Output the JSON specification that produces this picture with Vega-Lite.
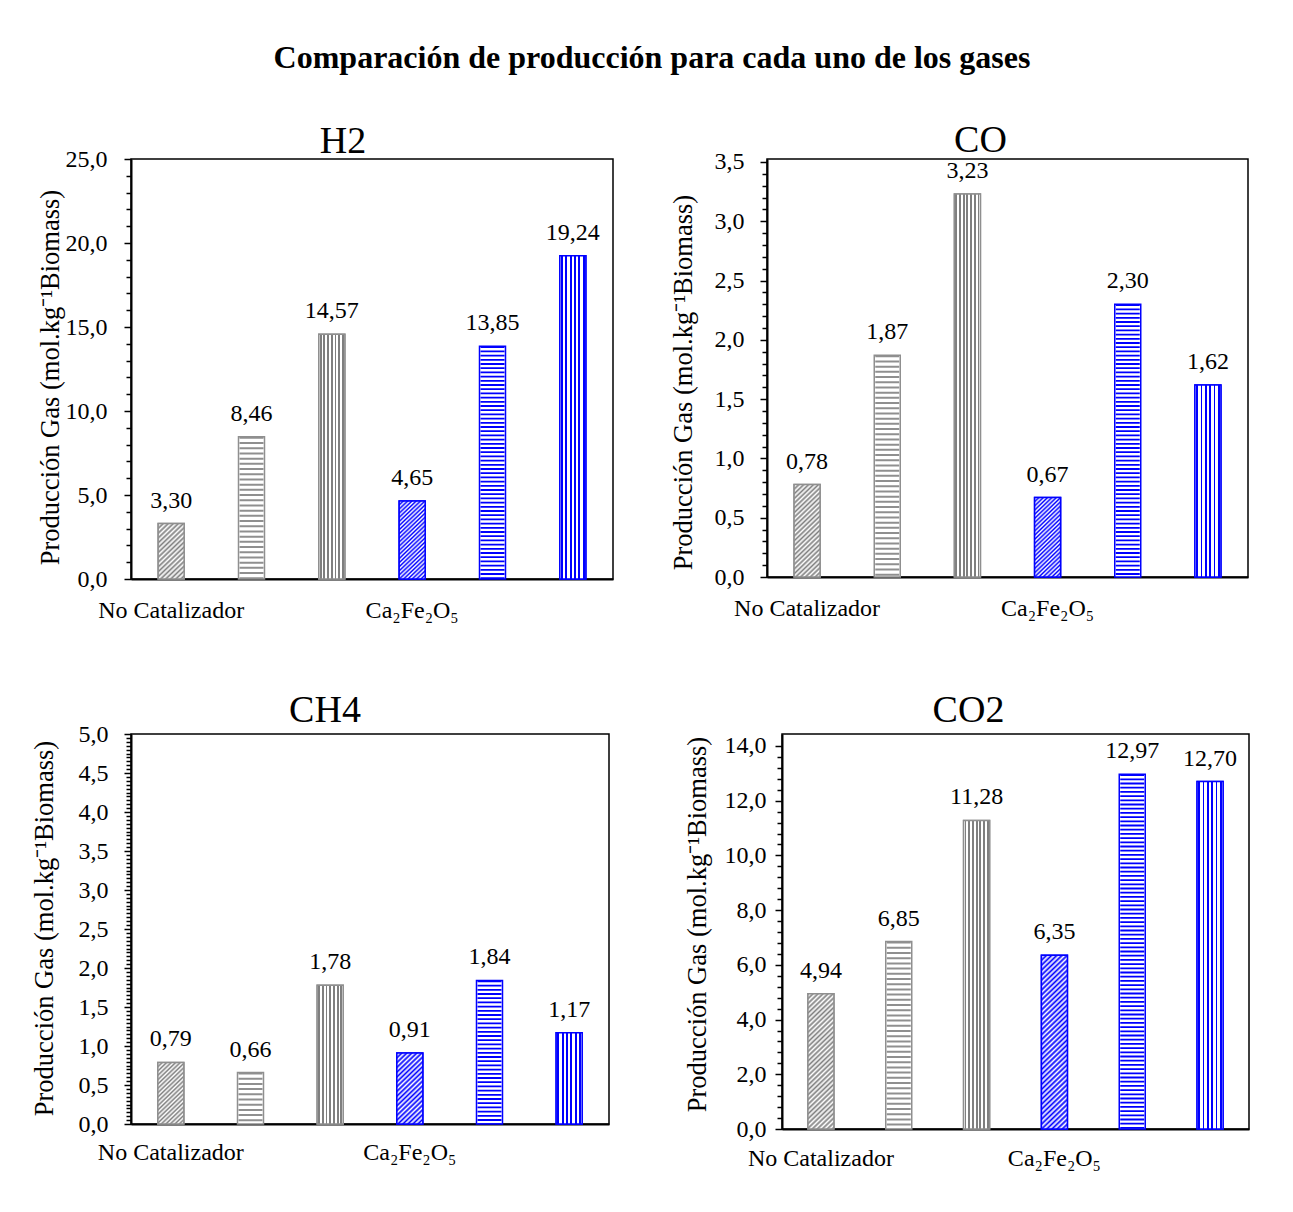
{
"$schema":"https://vega.github.io/schema/vega-lite/v6.json",
"background":"white",
"padding":{"left":30,"top":42,"right":10,"bottom":10},
"title":{"text":"Comparación de producción para cada uno de los gases","font":"Liberation Serif","fontSize":32,"fontWeight":"bold","color":"black","anchor":"middle","offset":46,"dx":12},
"datasets":{"d":[
{"gas":"H2","cat":1,"group":"No Catalizador","pattern":"d","value":3.30},
{"gas":"H2","cat":2,"group":"No Catalizador","pattern":"h","value":8.46},
{"gas":"H2","cat":3,"group":"No Catalizador","pattern":"v","value":14.57},
{"gas":"H2","cat":4,"group":"Ca2Fe2O5","pattern":"d","value":4.65},
{"gas":"H2","cat":5,"group":"Ca2Fe2O5","pattern":"h","value":13.85},
{"gas":"H2","cat":6,"group":"Ca2Fe2O5","pattern":"v","value":19.24},
{"gas":"CO","cat":1,"group":"No Catalizador","pattern":"d","value":0.78},
{"gas":"CO","cat":2,"group":"No Catalizador","pattern":"h","value":1.87},
{"gas":"CO","cat":3,"group":"No Catalizador","pattern":"v","value":3.23},
{"gas":"CO","cat":4,"group":"Ca2Fe2O5","pattern":"d","value":0.67},
{"gas":"CO","cat":5,"group":"Ca2Fe2O5","pattern":"h","value":2.30},
{"gas":"CO","cat":6,"group":"Ca2Fe2O5","pattern":"v","value":1.62},
{"gas":"CH4","cat":1,"group":"No Catalizador","pattern":"d","value":0.79},
{"gas":"CH4","cat":2,"group":"No Catalizador","pattern":"h","value":0.66},
{"gas":"CH4","cat":3,"group":"No Catalizador","pattern":"v","value":1.78},
{"gas":"CH4","cat":4,"group":"Ca2Fe2O5","pattern":"d","value":0.91},
{"gas":"CH4","cat":5,"group":"Ca2Fe2O5","pattern":"h","value":1.84},
{"gas":"CH4","cat":6,"group":"Ca2Fe2O5","pattern":"v","value":1.17},
{"gas":"CO2","cat":1,"group":"No Catalizador","pattern":"d","value":4.94},
{"gas":"CO2","cat":2,"group":"No Catalizador","pattern":"h","value":6.85},
{"gas":"CO2","cat":3,"group":"No Catalizador","pattern":"v","value":11.28},
{"gas":"CO2","cat":4,"group":"Ca2Fe2O5","pattern":"d","value":6.35},
{"gas":"CO2","cat":5,"group":"Ca2Fe2O5","pattern":"h","value":12.97},
{"gas":"CO2","cat":6,"group":"Ca2Fe2O5","pattern":"v","value":12.70}
]},
"spacing":68,
"vconcat":[
{"spacing":55,"hconcat":[
{"width":482,"height":420,
"title":{"text":"H2","fontSize":38,"offset":-14,"frame":"group","dx":-29,"anchor":"middle"},
"data":{"name":"d"},
"transform":[{"filter":"datum.gas == 'H2'"}],
"encoding":{
"x":{"field":"cat","type":"ordinal","scale":{"paddingInner":0,"paddingOuter":0},"axis":{"title":null,"labelAngle":0,"ticks":false,"tickSize":0,"labelPadding":19,"labelOverlap":false,"labelLimit":300,"labelExpr":"datum.value == 1 ? 'No Catalizador' : datum.value == 4 ? 'Ca₂Fe₂O₅' : ''"}},
"y":{"field":"value","type":"quantitative","scale":{"domain":[0,25],"nice":false},"axis":{"title":"Producción Gas (mol.kg⁻¹Biomass)","titleY":218,"values":[0,1,2,3,4,5,6,7,8,9,10,11,12,13,14,15,16,17,18,19,20,21,22,23,24,25],"format":".1f","labelExpr":"datum.value % 5 == 0 ? datum.label : ''","tickSize":{"condition":{"test":"datum.value % 5 == 0","value":7},"value":5},"labelPadding":17,"titlePadding":1}}
},
"layer":[
{"mark":{"type":"bar","width":26,"fill":"white","strokeWidth":1.5},"encoding":{"stroke":{"field":"group","type":"nominal","scale":{"domain":["No Catalizador","Ca2Fe2O5"],"range":["#8f8f8f","#0000ff"]},"legend":null}}},
{"transform":[{"filter":"datum.pattern == 'h'"}],"mark":{"type":"rule","strokeWidth":24},"encoding":{"y2":{"datum":0},"stroke":{"field":"group","type":"nominal","legend":null},"strokeDash":{"field":"group","type":"nominal","scale":{"domain":["No Catalizador","Ca2Fe2O5"],"range":[[2,3.2],[1.8,2.4]]},"legend":null}}},
{"transform":[{"filter":"datum.cat == 3"}],"mark":{"type":"bar","width":26,"stroke":"#8f8f8f","strokeWidth":1.5,"fill":{"gradient":"linear","x1":0,"y1":0,"x2":1,"y2":0,"stops":[{"offset":0,"color":"#fff"},{"offset":0.0357,"color":"#fff"},{"offset":0.0357,"color":"#7f7f7f"},{"offset":0.1071,"color":"#7f7f7f"},{"offset":0.1071,"color":"#fff"},{"offset":0.1786,"color":"#fff"},{"offset":0.1786,"color":"#7f7f7f"},{"offset":0.25,"color":"#7f7f7f"},{"offset":0.25,"color":"#fff"},{"offset":0.3214,"color":"#fff"},{"offset":0.3214,"color":"#7f7f7f"},{"offset":0.3929,"color":"#7f7f7f"},{"offset":0.3929,"color":"#fff"},{"offset":0.4643,"color":"#fff"},{"offset":0.4643,"color":"#7f7f7f"},{"offset":0.5357,"color":"#7f7f7f"},{"offset":0.5357,"color":"#fff"},{"offset":0.6071,"color":"#fff"},{"offset":0.6071,"color":"#7f7f7f"},{"offset":0.6786,"color":"#7f7f7f"},{"offset":0.6786,"color":"#fff"},{"offset":0.75,"color":"#fff"},{"offset":0.75,"color":"#7f7f7f"},{"offset":0.8214,"color":"#7f7f7f"},{"offset":0.8214,"color":"#fff"},{"offset":0.8929,"color":"#fff"},{"offset":0.8929,"color":"#7f7f7f"},{"offset":0.9643,"color":"#7f7f7f"},{"offset":0.9643,"color":"#fff"},{"offset":1,"color":"#fff"}]}}},
{"transform":[{"filter":"datum.cat == 6"}],"mark":{"type":"bar","width":26,"stroke":"#0000ff","strokeWidth":1.5,"fill":{"gradient":"linear","x1":0,"y1":0,"x2":1,"y2":0,"stops":[{"offset":0,"color":"#fff"},{"offset":0.05,"color":"#fff"},{"offset":0.05,"color":"#00f"},{"offset":0.1167,"color":"#00f"},{"offset":0.1167,"color":"#fff"},{"offset":0.2167,"color":"#fff"},{"offset":0.2167,"color":"#00f"},{"offset":0.2833,"color":"#00f"},{"offset":0.2833,"color":"#fff"},{"offset":0.3833,"color":"#fff"},{"offset":0.3833,"color":"#00f"},{"offset":0.45,"color":"#00f"},{"offset":0.45,"color":"#fff"},{"offset":0.55,"color":"#fff"},{"offset":0.55,"color":"#00f"},{"offset":0.6167,"color":"#00f"},{"offset":0.6167,"color":"#fff"},{"offset":0.7167,"color":"#fff"},{"offset":0.7167,"color":"#00f"},{"offset":0.7833,"color":"#00f"},{"offset":0.7833,"color":"#fff"},{"offset":0.8833,"color":"#fff"},{"offset":0.8833,"color":"#00f"},{"offset":0.95,"color":"#00f"},{"offset":0.95,"color":"#fff"},{"offset":1,"color":"#fff"}]}}},
{"transform":[{"filter":"datum.cat == 1"}],"mark":{"type":"bar","width":26,"stroke":"#8f8f8f","strokeWidth":1.5,"fill":{"gradient":"linear","x1":0,"y1":0,"x2":0.541,"y2":1.206,"stops":[
{"offset":0,"color":"#7f7f7f"},{"offset":0.03,"color":"#fff"},{"offset":0.06,"color":"#7f7f7f"},{"offset":0.09,"color":"#fff"},{"offset":0.12,"color":"#7f7f7f"},{"offset":0.15,"color":"#fff"},{"offset":0.18,"color":"#7f7f7f"},{"offset":0.21,"color":"#fff"},{"offset":0.24,"color":"#7f7f7f"},{"offset":0.27,"color":"#fff"},{"offset":0.3,"color":"#7f7f7f"},{"offset":0.33,"color":"#fff"},{"offset":0.36,"color":"#7f7f7f"},{"offset":0.39,"color":"#fff"},{"offset":0.42,"color":"#7f7f7f"},{"offset":0.45,"color":"#fff"},{"offset":0.48,"color":"#7f7f7f"},{"offset":0.51,"color":"#fff"},{"offset":0.54,"color":"#7f7f7f"},{"offset":0.57,"color":"#fff"},{"offset":0.6,"color":"#7f7f7f"},{"offset":0.63,"color":"#fff"},{"offset":0.66,"color":"#7f7f7f"},{"offset":0.69,"color":"#fff"},{"offset":0.72,"color":"#7f7f7f"},{"offset":0.75,"color":"#fff"},{"offset":0.78,"color":"#7f7f7f"},{"offset":0.81,"color":"#fff"},{"offset":0.84,"color":"#7f7f7f"},{"offset":0.87,"color":"#fff"},{"offset":0.9,"color":"#7f7f7f"},{"offset":0.93,"color":"#fff"},{"offset":0.96,"color":"#7f7f7f"},{"offset":0.99,"color":"#fff"},{"offset":1,"color":"#7f7f7f"}]}}},
{"transform":[{"filter":"datum.cat == 4"}],"mark":{"type":"bar","width":26,"stroke":"#0000ff","strokeWidth":1.5,"fill":{"gradient":"linear","x1":0,"y1":0,"x2":0.381,"y2":1.197,"stops":[
{"offset":0,"color":"#00f"},{"offset":0.02,"color":"#fff"},{"offset":0.04,"color":"#00f"},{"offset":0.06,"color":"#fff"},{"offset":0.08,"color":"#00f"},{"offset":0.1,"color":"#fff"},{"offset":0.12,"color":"#00f"},{"offset":0.14,"color":"#fff"},{"offset":0.16,"color":"#00f"},{"offset":0.18,"color":"#fff"},{"offset":0.2,"color":"#00f"},{"offset":0.22,"color":"#fff"},{"offset":0.24,"color":"#00f"},{"offset":0.26,"color":"#fff"},{"offset":0.28,"color":"#00f"},{"offset":0.3,"color":"#fff"},{"offset":0.32,"color":"#00f"},{"offset":0.34,"color":"#fff"},{"offset":0.36,"color":"#00f"},{"offset":0.38,"color":"#fff"},{"offset":0.4,"color":"#00f"},{"offset":0.42,"color":"#fff"},{"offset":0.44,"color":"#00f"},{"offset":0.46,"color":"#fff"},{"offset":0.48,"color":"#00f"},{"offset":0.5,"color":"#fff"},{"offset":0.52,"color":"#00f"},{"offset":0.54,"color":"#fff"},{"offset":0.56,"color":"#00f"},{"offset":0.58,"color":"#fff"},{"offset":0.6,"color":"#00f"},{"offset":0.62,"color":"#fff"},{"offset":0.64,"color":"#00f"},{"offset":0.66,"color":"#fff"},{"offset":0.68,"color":"#00f"},{"offset":0.7,"color":"#fff"},{"offset":0.72,"color":"#00f"},{"offset":0.74,"color":"#fff"},{"offset":0.76,"color":"#00f"},{"offset":0.78,"color":"#fff"},{"offset":0.8,"color":"#00f"},{"offset":0.82,"color":"#fff"},{"offset":0.84,"color":"#00f"},{"offset":0.86,"color":"#fff"},{"offset":0.88,"color":"#00f"},{"offset":0.9,"color":"#fff"},{"offset":0.92,"color":"#00f"},{"offset":0.94,"color":"#fff"},{"offset":0.96,"color":"#00f"},{"offset":0.98,"color":"#fff"},{"offset":1,"color":"#00f"}]}}},
{"mark":{"type":"text","dy":-16,"baseline":"alphabetic","fontSize":24,"font":"Liberation Serif","color":"black"},"encoding":{"text":{"field":"value","type":"quantitative","format":".2f"}}}
]},
{"width":481,"height":418,
"title":{"text":"CO","fontSize":38,"offset":-10,"frame":"group","dx":-27,"anchor":"middle"},
"data":{"name":"d"},
"transform":[{"filter":"datum.gas == 'CO'"}],
"encoding":{
"x":{"field":"cat","type":"ordinal","scale":{"paddingInner":0,"paddingOuter":0},"axis":{"title":null,"labelAngle":0,"ticks":false,"tickSize":0,"labelPadding":19,"labelOverlap":false,"labelLimit":300,"labelExpr":"datum.value == 1 ? 'No Catalizador' : datum.value == 4 ? 'Ca₂Fe₂O₅' : ''"}},
"y":{"field":"value","type":"quantitative","scale":{"domain":[0,3.5253],"nice":false},"axis":{"title":"Producción Gas (mol.kg⁻¹Biomass)","titleY":223,"values":[0,0.1,0.2,0.3,0.4,0.5,0.6,0.7,0.8,0.9,1,1.1,1.2,1.3,1.4,1.5,1.6,1.7,1.8,1.9,2,2.1,2.2,2.3,2.4,2.5,2.6,2.7,2.8,2.9,3,3.1,3.2,3.3,3.4,3.5],"format":".1f","labelExpr":"abs(datum.value*2 - round(datum.value*2)) < 0.001 ? datum.label : ''","tickSize":{"condition":{"test":"abs(datum.value*2 - round(datum.value*2)) < 0.001","value":7},"value":5},"labelPadding":16,"titlePadding":17}}
},
"layer":[
{"mark":{"type":"bar","width":26,"fill":"white","strokeWidth":1.5},"encoding":{"stroke":{"field":"group","type":"nominal","scale":{"domain":["No Catalizador","Ca2Fe2O5"],"range":["#8f8f8f","#0000ff"]},"legend":null}}},
{"transform":[{"filter":"datum.pattern == 'h'"}],"mark":{"type":"rule","strokeWidth":24},"encoding":{"y2":{"datum":0},"stroke":{"field":"group","type":"nominal","legend":null},"strokeDash":{"field":"group","type":"nominal","scale":{"domain":["No Catalizador","Ca2Fe2O5"],"range":[[2,3.2],[1.8,2.4]]},"legend":null}}},
{"transform":[{"filter":"datum.cat == 3"}],"mark":{"type":"bar","width":26,"stroke":"#8f8f8f","strokeWidth":1.5,"fill":{"gradient":"linear","x1":0,"y1":0,"x2":1,"y2":0,"stops":[{"offset":0,"color":"#fff"},{"offset":0.0357,"color":"#fff"},{"offset":0.0357,"color":"#7f7f7f"},{"offset":0.1071,"color":"#7f7f7f"},{"offset":0.1071,"color":"#fff"},{"offset":0.1786,"color":"#fff"},{"offset":0.1786,"color":"#7f7f7f"},{"offset":0.25,"color":"#7f7f7f"},{"offset":0.25,"color":"#fff"},{"offset":0.3214,"color":"#fff"},{"offset":0.3214,"color":"#7f7f7f"},{"offset":0.3929,"color":"#7f7f7f"},{"offset":0.3929,"color":"#fff"},{"offset":0.4643,"color":"#fff"},{"offset":0.4643,"color":"#7f7f7f"},{"offset":0.5357,"color":"#7f7f7f"},{"offset":0.5357,"color":"#fff"},{"offset":0.6071,"color":"#fff"},{"offset":0.6071,"color":"#7f7f7f"},{"offset":0.6786,"color":"#7f7f7f"},{"offset":0.6786,"color":"#fff"},{"offset":0.75,"color":"#fff"},{"offset":0.75,"color":"#7f7f7f"},{"offset":0.8214,"color":"#7f7f7f"},{"offset":0.8214,"color":"#fff"},{"offset":0.8929,"color":"#fff"},{"offset":0.8929,"color":"#7f7f7f"},{"offset":0.9643,"color":"#7f7f7f"},{"offset":0.9643,"color":"#fff"},{"offset":1,"color":"#fff"}]}}},
{"transform":[{"filter":"datum.cat == 6"}],"mark":{"type":"bar","width":26,"stroke":"#0000ff","strokeWidth":1.5,"fill":{"gradient":"linear","x1":0,"y1":0,"x2":1,"y2":0,"stops":[{"offset":0,"color":"#fff"},{"offset":0.05,"color":"#fff"},{"offset":0.05,"color":"#00f"},{"offset":0.1167,"color":"#00f"},{"offset":0.1167,"color":"#fff"},{"offset":0.2167,"color":"#fff"},{"offset":0.2167,"color":"#00f"},{"offset":0.2833,"color":"#00f"},{"offset":0.2833,"color":"#fff"},{"offset":0.3833,"color":"#fff"},{"offset":0.3833,"color":"#00f"},{"offset":0.45,"color":"#00f"},{"offset":0.45,"color":"#fff"},{"offset":0.55,"color":"#fff"},{"offset":0.55,"color":"#00f"},{"offset":0.6167,"color":"#00f"},{"offset":0.6167,"color":"#fff"},{"offset":0.7167,"color":"#fff"},{"offset":0.7167,"color":"#00f"},{"offset":0.7833,"color":"#00f"},{"offset":0.7833,"color":"#fff"},{"offset":0.8833,"color":"#fff"},{"offset":0.8833,"color":"#00f"},{"offset":0.95,"color":"#00f"},{"offset":0.95,"color":"#fff"},{"offset":1,"color":"#fff"}]}}},
{"transform":[{"filter":"datum.cat == 1"}],"mark":{"type":"bar","width":26,"stroke":"#8f8f8f","strokeWidth":1.5,"fill":{"gradient":"linear","x1":0,"y1":0,"x2":0.32,"y2":1.184,"stops":[
{"offset":0,"color":"#7f7f7f"},{"offset":0.02,"color":"#fff"},{"offset":0.04,"color":"#7f7f7f"},{"offset":0.06,"color":"#fff"},{"offset":0.08,"color":"#7f7f7f"},{"offset":0.1,"color":"#fff"},{"offset":0.12,"color":"#7f7f7f"},{"offset":0.14,"color":"#fff"},{"offset":0.16,"color":"#7f7f7f"},{"offset":0.18,"color":"#fff"},{"offset":0.2,"color":"#7f7f7f"},{"offset":0.22,"color":"#fff"},{"offset":0.24,"color":"#7f7f7f"},{"offset":0.26,"color":"#fff"},{"offset":0.28,"color":"#7f7f7f"},{"offset":0.3,"color":"#fff"},{"offset":0.32,"color":"#7f7f7f"},{"offset":0.34,"color":"#fff"},{"offset":0.36,"color":"#7f7f7f"},{"offset":0.38,"color":"#fff"},{"offset":0.4,"color":"#7f7f7f"},{"offset":0.42,"color":"#fff"},{"offset":0.44,"color":"#7f7f7f"},{"offset":0.46,"color":"#fff"},{"offset":0.48,"color":"#7f7f7f"},{"offset":0.5,"color":"#fff"},{"offset":0.52,"color":"#7f7f7f"},{"offset":0.54,"color":"#fff"},{"offset":0.56,"color":"#7f7f7f"},{"offset":0.58,"color":"#fff"},{"offset":0.6,"color":"#7f7f7f"},{"offset":0.62,"color":"#fff"},{"offset":0.64,"color":"#7f7f7f"},{"offset":0.66,"color":"#fff"},{"offset":0.68,"color":"#7f7f7f"},{"offset":0.7,"color":"#fff"},{"offset":0.72,"color":"#7f7f7f"},{"offset":0.74,"color":"#fff"},{"offset":0.76,"color":"#7f7f7f"},{"offset":0.78,"color":"#fff"},{"offset":0.8,"color":"#7f7f7f"},{"offset":0.82,"color":"#fff"},{"offset":0.84,"color":"#7f7f7f"},{"offset":0.86,"color":"#fff"},{"offset":0.88,"color":"#7f7f7f"},{"offset":0.9,"color":"#fff"},{"offset":0.92,"color":"#7f7f7f"},{"offset":0.94,"color":"#fff"},{"offset":0.96,"color":"#7f7f7f"},{"offset":0.98,"color":"#fff"},{"offset":1,"color":"#7f7f7f"}]}}},
{"transform":[{"filter":"datum.cat == 4"}],"mark":{"type":"bar","width":26,"stroke":"#0000ff","strokeWidth":1.5,"fill":{"gradient":"linear","x1":0,"y1":0,"x2":0.377,"y2":1.196,"stops":[
{"offset":0,"color":"#00f"},{"offset":0.02,"color":"#fff"},{"offset":0.04,"color":"#00f"},{"offset":0.06,"color":"#fff"},{"offset":0.08,"color":"#00f"},{"offset":0.1,"color":"#fff"},{"offset":0.12,"color":"#00f"},{"offset":0.14,"color":"#fff"},{"offset":0.16,"color":"#00f"},{"offset":0.18,"color":"#fff"},{"offset":0.2,"color":"#00f"},{"offset":0.22,"color":"#fff"},{"offset":0.24,"color":"#00f"},{"offset":0.26,"color":"#fff"},{"offset":0.28,"color":"#00f"},{"offset":0.3,"color":"#fff"},{"offset":0.32,"color":"#00f"},{"offset":0.34,"color":"#fff"},{"offset":0.36,"color":"#00f"},{"offset":0.38,"color":"#fff"},{"offset":0.4,"color":"#00f"},{"offset":0.42,"color":"#fff"},{"offset":0.44,"color":"#00f"},{"offset":0.46,"color":"#fff"},{"offset":0.48,"color":"#00f"},{"offset":0.5,"color":"#fff"},{"offset":0.52,"color":"#00f"},{"offset":0.54,"color":"#fff"},{"offset":0.56,"color":"#00f"},{"offset":0.58,"color":"#fff"},{"offset":0.6,"color":"#00f"},{"offset":0.62,"color":"#fff"},{"offset":0.64,"color":"#00f"},{"offset":0.66,"color":"#fff"},{"offset":0.68,"color":"#00f"},{"offset":0.7,"color":"#fff"},{"offset":0.72,"color":"#00f"},{"offset":0.74,"color":"#fff"},{"offset":0.76,"color":"#00f"},{"offset":0.78,"color":"#fff"},{"offset":0.8,"color":"#00f"},{"offset":0.82,"color":"#fff"},{"offset":0.84,"color":"#00f"},{"offset":0.86,"color":"#fff"},{"offset":0.88,"color":"#00f"},{"offset":0.9,"color":"#fff"},{"offset":0.92,"color":"#00f"},{"offset":0.94,"color":"#fff"},{"offset":0.96,"color":"#00f"},{"offset":0.98,"color":"#fff"},{"offset":1,"color":"#00f"}]}}},
{"mark":{"type":"text","dy":-16,"baseline":"alphabetic","fontSize":24,"font":"Liberation Serif","color":"black"},"encoding":{"text":{"field":"value","type":"quantitative","format":".2f"}}}
]}
]},
{"spacing":73,"hconcat":[
{"width":478,"height":390,
"title":{"text":"CH4","fontSize":38,"offset":-8,"frame":"group","dx":-45,"anchor":"middle"},
"data":{"name":"d"},
"transform":[{"filter":"datum.gas == 'CH4'"}],
"encoding":{
"x":{"field":"cat","type":"ordinal","scale":{"paddingInner":0,"paddingOuter":0},"axis":{"title":null,"labelAngle":0,"ticks":false,"tickSize":0,"labelPadding":16,"labelOverlap":false,"labelLimit":300,"labelExpr":"datum.value == 1 ? 'No Catalizador' : datum.value == 4 ? 'Ca₂Fe₂O₅' : ''"}},
"y":{"field":"value","type":"quantitative","scale":{"domain":[0,5],"nice":false},"axis":{"title":"Producción Gas (mol.kg⁻¹Biomass)","titleY":194,"values":[0,0.05,0.1,0.15,0.2,0.25,0.3,0.35,0.4,0.45,0.5,0.55,0.6,0.65,0.7,0.75,0.8,0.85,0.9,0.95,1,1.05,1.1,1.15,1.2,1.25,1.3,1.35,1.4,1.45,1.5,1.55,1.6,1.65,1.7,1.75,1.8,1.85,1.9,1.95,2,2.05,2.1,2.15,2.2,2.25,2.3,2.35,2.4,2.45,2.5,2.55,2.6,2.65,2.7,2.75,2.8,2.85,2.9,2.95,3,3.05,3.1,3.15,3.2,3.25,3.3,3.35,3.4,3.45,3.5,3.55,3.6,3.65,3.7,3.75,3.8,3.85,3.9,3.95,4,4.05,4.1,4.15,4.2,4.25,4.3,4.35,4.4,4.45,4.5,4.55,4.6,4.65,4.7,4.75,4.8,4.85,4.9,4.95,5],"format":".1f","labelExpr":"abs(datum.value*2 - round(datum.value*2)) < 0.001 ? datum.label : ''","tickSize":{"condition":{"test":"abs(datum.value*2 - round(datum.value*2)) < 0.001","value":7},"value":5},"labelPadding":16,"titlePadding":20}}
},
"layer":[
{"mark":{"type":"bar","width":26,"fill":"white","strokeWidth":1.5},"encoding":{"stroke":{"field":"group","type":"nominal","scale":{"domain":["No Catalizador","Ca2Fe2O5"],"range":["#8f8f8f","#0000ff"]},"legend":null}}},
{"transform":[{"filter":"datum.pattern == 'h'"}],"mark":{"type":"rule","strokeWidth":24},"encoding":{"y2":{"datum":0},"stroke":{"field":"group","type":"nominal","legend":null},"strokeDash":{"field":"group","type":"nominal","scale":{"domain":["No Catalizador","Ca2Fe2O5"],"range":[[2,3.2],[1.8,2.4]]},"legend":null}}},
{"transform":[{"filter":"datum.cat == 3"}],"mark":{"type":"bar","width":26,"stroke":"#8f8f8f","strokeWidth":1.5,"fill":{"gradient":"linear","x1":0,"y1":0,"x2":1,"y2":0,"stops":[{"offset":0,"color":"#fff"},{"offset":0.0357,"color":"#fff"},{"offset":0.0357,"color":"#7f7f7f"},{"offset":0.1071,"color":"#7f7f7f"},{"offset":0.1071,"color":"#fff"},{"offset":0.1786,"color":"#fff"},{"offset":0.1786,"color":"#7f7f7f"},{"offset":0.25,"color":"#7f7f7f"},{"offset":0.25,"color":"#fff"},{"offset":0.3214,"color":"#fff"},{"offset":0.3214,"color":"#7f7f7f"},{"offset":0.3929,"color":"#7f7f7f"},{"offset":0.3929,"color":"#fff"},{"offset":0.4643,"color":"#fff"},{"offset":0.4643,"color":"#7f7f7f"},{"offset":0.5357,"color":"#7f7f7f"},{"offset":0.5357,"color":"#fff"},{"offset":0.6071,"color":"#fff"},{"offset":0.6071,"color":"#7f7f7f"},{"offset":0.6786,"color":"#7f7f7f"},{"offset":0.6786,"color":"#fff"},{"offset":0.75,"color":"#fff"},{"offset":0.75,"color":"#7f7f7f"},{"offset":0.8214,"color":"#7f7f7f"},{"offset":0.8214,"color":"#fff"},{"offset":0.8929,"color":"#fff"},{"offset":0.8929,"color":"#7f7f7f"},{"offset":0.9643,"color":"#7f7f7f"},{"offset":0.9643,"color":"#fff"},{"offset":1,"color":"#fff"}]}}},
{"transform":[{"filter":"datum.cat == 6"}],"mark":{"type":"bar","width":26,"stroke":"#0000ff","strokeWidth":1.5,"fill":{"gradient":"linear","x1":0,"y1":0,"x2":1,"y2":0,"stops":[{"offset":0,"color":"#fff"},{"offset":0.05,"color":"#fff"},{"offset":0.05,"color":"#00f"},{"offset":0.1167,"color":"#00f"},{"offset":0.1167,"color":"#fff"},{"offset":0.2167,"color":"#fff"},{"offset":0.2167,"color":"#00f"},{"offset":0.2833,"color":"#00f"},{"offset":0.2833,"color":"#fff"},{"offset":0.3833,"color":"#fff"},{"offset":0.3833,"color":"#00f"},{"offset":0.45,"color":"#00f"},{"offset":0.45,"color":"#fff"},{"offset":0.55,"color":"#fff"},{"offset":0.55,"color":"#00f"},{"offset":0.6167,"color":"#00f"},{"offset":0.6167,"color":"#fff"},{"offset":0.7167,"color":"#fff"},{"offset":0.7167,"color":"#00f"},{"offset":0.7833,"color":"#00f"},{"offset":0.7833,"color":"#fff"},{"offset":0.8833,"color":"#fff"},{"offset":0.8833,"color":"#00f"},{"offset":0.95,"color":"#00f"},{"offset":0.95,"color":"#fff"},{"offset":1,"color":"#fff"}]}}},
{"transform":[{"filter":"datum.cat == 1"}],"mark":{"type":"bar","width":26,"stroke":"#8f8f8f","strokeWidth":1.5,"fill":{"gradient":"linear","x1":0,"y1":0,"x2":0.49,"y2":1.207,"stops":[
{"offset":0,"color":"#7f7f7f"},{"offset":0.025,"color":"#fff"},{"offset":0.05,"color":"#7f7f7f"},{"offset":0.075,"color":"#fff"},{"offset":0.1,"color":"#7f7f7f"},{"offset":0.125,"color":"#fff"},{"offset":0.15,"color":"#7f7f7f"},{"offset":0.175,"color":"#fff"},{"offset":0.2,"color":"#7f7f7f"},{"offset":0.225,"color":"#fff"},{"offset":0.25,"color":"#7f7f7f"},{"offset":0.275,"color":"#fff"},{"offset":0.3,"color":"#7f7f7f"},{"offset":0.325,"color":"#fff"},{"offset":0.35,"color":"#7f7f7f"},{"offset":0.375,"color":"#fff"},{"offset":0.4,"color":"#7f7f7f"},{"offset":0.425,"color":"#fff"},{"offset":0.45,"color":"#7f7f7f"},{"offset":0.475,"color":"#fff"},{"offset":0.5,"color":"#7f7f7f"},{"offset":0.525,"color":"#fff"},{"offset":0.55,"color":"#7f7f7f"},{"offset":0.575,"color":"#fff"},{"offset":0.6,"color":"#7f7f7f"},{"offset":0.625,"color":"#fff"},{"offset":0.65,"color":"#7f7f7f"},{"offset":0.675,"color":"#fff"},{"offset":0.7,"color":"#7f7f7f"},{"offset":0.725,"color":"#fff"},{"offset":0.75,"color":"#7f7f7f"},{"offset":0.775,"color":"#fff"},{"offset":0.8,"color":"#7f7f7f"},{"offset":0.825,"color":"#fff"},{"offset":0.85,"color":"#7f7f7f"},{"offset":0.875,"color":"#fff"},{"offset":0.9,"color":"#7f7f7f"},{"offset":0.925,"color":"#fff"},{"offset":0.95,"color":"#7f7f7f"},{"offset":0.975,"color":"#fff"},{"offset":1,"color":"#7f7f7f"}]}}},
{"transform":[{"filter":"datum.cat == 4"}],"mark":{"type":"bar","width":26,"stroke":"#0000ff","strokeWidth":1.5,"fill":{"gradient":"linear","x1":0,"y1":0,"x2":0.424,"y2":1.203,"stops":[
{"offset":0,"color":"#00f"},{"offset":0.025,"color":"#fff"},{"offset":0.05,"color":"#00f"},{"offset":0.075,"color":"#fff"},{"offset":0.1,"color":"#00f"},{"offset":0.125,"color":"#fff"},{"offset":0.15,"color":"#00f"},{"offset":0.175,"color":"#fff"},{"offset":0.2,"color":"#00f"},{"offset":0.225,"color":"#fff"},{"offset":0.25,"color":"#00f"},{"offset":0.275,"color":"#fff"},{"offset":0.3,"color":"#00f"},{"offset":0.325,"color":"#fff"},{"offset":0.35,"color":"#00f"},{"offset":0.375,"color":"#fff"},{"offset":0.4,"color":"#00f"},{"offset":0.425,"color":"#fff"},{"offset":0.45,"color":"#00f"},{"offset":0.475,"color":"#fff"},{"offset":0.5,"color":"#00f"},{"offset":0.525,"color":"#fff"},{"offset":0.55,"color":"#00f"},{"offset":0.575,"color":"#fff"},{"offset":0.6,"color":"#00f"},{"offset":0.625,"color":"#fff"},{"offset":0.65,"color":"#00f"},{"offset":0.675,"color":"#fff"},{"offset":0.7,"color":"#00f"},{"offset":0.725,"color":"#fff"},{"offset":0.75,"color":"#00f"},{"offset":0.775,"color":"#fff"},{"offset":0.8,"color":"#00f"},{"offset":0.825,"color":"#fff"},{"offset":0.85,"color":"#00f"},{"offset":0.875,"color":"#fff"},{"offset":0.9,"color":"#00f"},{"offset":0.925,"color":"#fff"},{"offset":0.95,"color":"#00f"},{"offset":0.975,"color":"#fff"},{"offset":1,"color":"#00f"}]}}},
{"mark":{"type":"text","dy":-16,"baseline":"alphabetic","fontSize":24,"font":"Liberation Serif","color":"black"},"encoding":{"text":{"field":"value","type":"quantitative","format":".2f"}}}
]},
{"width":467,"height":395,
"title":{"text":"CO2","fontSize":38,"offset":4,"frame":"group","dx":-47,"anchor":"middle"},
"data":{"name":"d"},
"transform":[{"filter":"datum.gas == 'CO2'"}],
"encoding":{
"x":{"field":"cat","type":"ordinal","scale":{"paddingInner":0,"paddingOuter":0},"axis":{"title":null,"labelAngle":0,"ticks":false,"tickSize":0,"labelPadding":17,"labelOverlap":false,"labelLimit":300,"labelExpr":"datum.value == 1 ? 'No Catalizador' : datum.value == 4 ? 'Ca₂Fe₂O₅' : ''"}},
"y":{"field":"value","type":"quantitative","scale":{"domain":[0,14.4386],"nice":false},"axis":{"title":"Producción Gas (mol.kg⁻¹Biomass)","titleY":190,"values":[0,0.4,0.8,1.2,1.6,2,2.4,2.8,3.2,3.6,4,4.4,4.8,5.2,5.6,6,6.4,6.8,7.2,7.6,8,8.4,8.8,9.2,9.6,10,10.4,10.8,11.2,11.6,12,12.4,12.8,13.2,13.6,14],"format":".1f","labelExpr":"abs(datum.value/2 - round(datum.value/2)) < 0.001 ? datum.label : ''","tickSize":{"condition":{"test":"abs(datum.value/2 - round(datum.value/2)) < 0.001","value":7},"value":5},"labelPadding":9,"titlePadding":13}}
},
"layer":[
{"mark":{"type":"bar","width":26,"fill":"white","strokeWidth":1.5},"encoding":{"stroke":{"field":"group","type":"nominal","scale":{"domain":["No Catalizador","Ca2Fe2O5"],"range":["#8f8f8f","#0000ff"]},"legend":null}}},
{"transform":[{"filter":"datum.pattern == 'h'"}],"mark":{"type":"rule","strokeWidth":24},"encoding":{"y2":{"datum":0},"stroke":{"field":"group","type":"nominal","legend":null},"strokeDash":{"field":"group","type":"nominal","scale":{"domain":["No Catalizador","Ca2Fe2O5"],"range":[[2,3.2],[1.8,2.4]]},"legend":null}}},
{"transform":[{"filter":"datum.cat == 3"}],"mark":{"type":"bar","width":26,"stroke":"#8f8f8f","strokeWidth":1.5,"fill":{"gradient":"linear","x1":0,"y1":0,"x2":1,"y2":0,"stops":[{"offset":0,"color":"#fff"},{"offset":0.0357,"color":"#fff"},{"offset":0.0357,"color":"#7f7f7f"},{"offset":0.1071,"color":"#7f7f7f"},{"offset":0.1071,"color":"#fff"},{"offset":0.1786,"color":"#fff"},{"offset":0.1786,"color":"#7f7f7f"},{"offset":0.25,"color":"#7f7f7f"},{"offset":0.25,"color":"#fff"},{"offset":0.3214,"color":"#fff"},{"offset":0.3214,"color":"#7f7f7f"},{"offset":0.3929,"color":"#7f7f7f"},{"offset":0.3929,"color":"#fff"},{"offset":0.4643,"color":"#fff"},{"offset":0.4643,"color":"#7f7f7f"},{"offset":0.5357,"color":"#7f7f7f"},{"offset":0.5357,"color":"#fff"},{"offset":0.6071,"color":"#fff"},{"offset":0.6071,"color":"#7f7f7f"},{"offset":0.6786,"color":"#7f7f7f"},{"offset":0.6786,"color":"#fff"},{"offset":0.75,"color":"#fff"},{"offset":0.75,"color":"#7f7f7f"},{"offset":0.8214,"color":"#7f7f7f"},{"offset":0.8214,"color":"#fff"},{"offset":0.8929,"color":"#fff"},{"offset":0.8929,"color":"#7f7f7f"},{"offset":0.9643,"color":"#7f7f7f"},{"offset":0.9643,"color":"#fff"},{"offset":1,"color":"#fff"}]}}},
{"transform":[{"filter":"datum.cat == 6"}],"mark":{"type":"bar","width":26,"stroke":"#0000ff","strokeWidth":1.5,"fill":{"gradient":"linear","x1":0,"y1":0,"x2":1,"y2":0,"stops":[{"offset":0,"color":"#fff"},{"offset":0.05,"color":"#fff"},{"offset":0.05,"color":"#00f"},{"offset":0.1167,"color":"#00f"},{"offset":0.1167,"color":"#fff"},{"offset":0.2167,"color":"#fff"},{"offset":0.2167,"color":"#00f"},{"offset":0.2833,"color":"#00f"},{"offset":0.2833,"color":"#fff"},{"offset":0.3833,"color":"#fff"},{"offset":0.3833,"color":"#00f"},{"offset":0.45,"color":"#00f"},{"offset":0.45,"color":"#fff"},{"offset":0.55,"color":"#fff"},{"offset":0.55,"color":"#00f"},{"offset":0.6167,"color":"#00f"},{"offset":0.6167,"color":"#fff"},{"offset":0.7167,"color":"#fff"},{"offset":0.7167,"color":"#00f"},{"offset":0.7833,"color":"#00f"},{"offset":0.7833,"color":"#fff"},{"offset":0.8833,"color":"#fff"},{"offset":0.8833,"color":"#00f"},{"offset":0.95,"color":"#00f"},{"offset":0.95,"color":"#fff"},{"offset":1,"color":"#fff"}]}}},
{"transform":[{"filter":"datum.cat == 1"}],"mark":{"type":"bar","width":26,"stroke":"#8f8f8f","strokeWidth":1.5,"fill":{"gradient":"linear","x1":0,"y1":0,"x2":0.212,"y2":1.146,"stops":[
{"offset":0,"color":"#7f7f7f"},{"offset":0.015,"color":"#fff"},{"offset":0.03,"color":"#7f7f7f"},{"offset":0.045,"color":"#fff"},{"offset":0.06,"color":"#7f7f7f"},{"offset":0.075,"color":"#fff"},{"offset":0.09,"color":"#7f7f7f"},{"offset":0.105,"color":"#fff"},{"offset":0.12,"color":"#7f7f7f"},{"offset":0.135,"color":"#fff"},{"offset":0.15,"color":"#7f7f7f"},{"offset":0.165,"color":"#fff"},{"offset":0.18,"color":"#7f7f7f"},{"offset":0.195,"color":"#fff"},{"offset":0.21,"color":"#7f7f7f"},{"offset":0.225,"color":"#fff"},{"offset":0.24,"color":"#7f7f7f"},{"offset":0.255,"color":"#fff"},{"offset":0.27,"color":"#7f7f7f"},{"offset":0.285,"color":"#fff"},{"offset":0.3,"color":"#7f7f7f"},{"offset":0.315,"color":"#fff"},{"offset":0.33,"color":"#7f7f7f"},{"offset":0.345,"color":"#fff"},{"offset":0.36,"color":"#7f7f7f"},{"offset":0.375,"color":"#fff"},{"offset":0.39,"color":"#7f7f7f"},{"offset":0.405,"color":"#fff"},{"offset":0.42,"color":"#7f7f7f"},{"offset":0.435,"color":"#fff"},{"offset":0.45,"color":"#7f7f7f"},{"offset":0.465,"color":"#fff"},{"offset":0.48,"color":"#7f7f7f"},{"offset":0.495,"color":"#fff"},{"offset":0.51,"color":"#7f7f7f"},{"offset":0.525,"color":"#fff"},{"offset":0.54,"color":"#7f7f7f"},{"offset":0.555,"color":"#fff"},{"offset":0.57,"color":"#7f7f7f"},{"offset":0.585,"color":"#fff"},{"offset":0.6,"color":"#7f7f7f"},{"offset":0.615,"color":"#fff"},{"offset":0.63,"color":"#7f7f7f"},{"offset":0.645,"color":"#fff"},{"offset":0.66,"color":"#7f7f7f"},{"offset":0.675,"color":"#fff"},{"offset":0.69,"color":"#7f7f7f"},{"offset":0.705,"color":"#fff"},{"offset":0.72,"color":"#7f7f7f"},{"offset":0.735,"color":"#fff"},{"offset":0.75,"color":"#7f7f7f"},{"offset":0.765,"color":"#fff"},{"offset":0.78,"color":"#7f7f7f"},{"offset":0.795,"color":"#fff"},{"offset":0.81,"color":"#7f7f7f"},{"offset":0.825,"color":"#fff"},{"offset":0.84,"color":"#7f7f7f"},{"offset":0.855,"color":"#fff"},{"offset":0.87,"color":"#7f7f7f"},{"offset":0.885,"color":"#fff"},{"offset":0.9,"color":"#7f7f7f"},{"offset":0.915,"color":"#fff"},{"offset":0.93,"color":"#7f7f7f"},{"offset":0.945,"color":"#fff"},{"offset":0.96,"color":"#7f7f7f"},{"offset":0.975,"color":"#fff"},{"offset":0.99,"color":"#7f7f7f"},{"offset":1,"color":"#bfbfbf"}]}}},
{"transform":[{"filter":"datum.cat == 4"}],"mark":{"type":"bar","width":26,"stroke":"#0000ff","strokeWidth":1.5,"fill":{"gradient":"linear","x1":0,"y1":0,"x2":0.161,"y2":1.121,"stops":[
{"offset":0,"color":"#00f"},{"offset":0.0125,"color":"#fff"},{"offset":0.025,"color":"#00f"},{"offset":0.0375,"color":"#fff"},{"offset":0.05,"color":"#00f"},{"offset":0.0625,"color":"#fff"},{"offset":0.075,"color":"#00f"},{"offset":0.0875,"color":"#fff"},{"offset":0.1,"color":"#00f"},{"offset":0.1125,"color":"#fff"},{"offset":0.125,"color":"#00f"},{"offset":0.1375,"color":"#fff"},{"offset":0.15,"color":"#00f"},{"offset":0.1625,"color":"#fff"},{"offset":0.175,"color":"#00f"},{"offset":0.1875,"color":"#fff"},{"offset":0.2,"color":"#00f"},{"offset":0.2125,"color":"#fff"},{"offset":0.225,"color":"#00f"},{"offset":0.2375,"color":"#fff"},{"offset":0.25,"color":"#00f"},{"offset":0.2625,"color":"#fff"},{"offset":0.275,"color":"#00f"},{"offset":0.2875,"color":"#fff"},{"offset":0.3,"color":"#00f"},{"offset":0.3125,"color":"#fff"},{"offset":0.325,"color":"#00f"},{"offset":0.3375,"color":"#fff"},{"offset":0.35,"color":"#00f"},{"offset":0.3625,"color":"#fff"},{"offset":0.375,"color":"#00f"},{"offset":0.3875,"color":"#fff"},{"offset":0.4,"color":"#00f"},{"offset":0.4125,"color":"#fff"},{"offset":0.425,"color":"#00f"},{"offset":0.4375,"color":"#fff"},{"offset":0.45,"color":"#00f"},{"offset":0.4625,"color":"#fff"},{"offset":0.475,"color":"#00f"},{"offset":0.4875,"color":"#fff"},{"offset":0.5,"color":"#00f"},{"offset":0.5125,"color":"#fff"},{"offset":0.525,"color":"#00f"},{"offset":0.5375,"color":"#fff"},{"offset":0.55,"color":"#00f"},{"offset":0.5625,"color":"#fff"},{"offset":0.575,"color":"#00f"},{"offset":0.5875,"color":"#fff"},{"offset":0.6,"color":"#00f"},{"offset":0.6125,"color":"#fff"},{"offset":0.625,"color":"#00f"},{"offset":0.6375,"color":"#fff"},{"offset":0.65,"color":"#00f"},{"offset":0.6625,"color":"#fff"},{"offset":0.675,"color":"#00f"},{"offset":0.6875,"color":"#fff"},{"offset":0.7,"color":"#00f"},{"offset":0.7125,"color":"#fff"},{"offset":0.725,"color":"#00f"},{"offset":0.7375,"color":"#fff"},{"offset":0.75,"color":"#00f"},{"offset":0.7625,"color":"#fff"},{"offset":0.775,"color":"#00f"},{"offset":0.7875,"color":"#fff"},{"offset":0.8,"color":"#00f"},{"offset":0.8125,"color":"#fff"},{"offset":0.825,"color":"#00f"},{"offset":0.8375,"color":"#fff"},{"offset":0.85,"color":"#00f"},{"offset":0.8625,"color":"#fff"},{"offset":0.875,"color":"#00f"},{"offset":0.8875,"color":"#fff"},{"offset":0.9,"color":"#00f"},{"offset":0.9125,"color":"#fff"},{"offset":0.925,"color":"#00f"},{"offset":0.9375,"color":"#fff"},{"offset":0.95,"color":"#00f"},{"offset":0.9625,"color":"#fff"},{"offset":0.975,"color":"#00f"},{"offset":0.9875,"color":"#fff"},{"offset":1,"color":"#00f"}]}}},
{"mark":{"type":"text","dy":-16,"baseline":"alphabetic","fontSize":24,"font":"Liberation Serif","color":"black"},"encoding":{"text":{"field":"value","type":"quantitative","format":".2f"}}}
]}
]}
],
"config":{
"font":"Liberation Serif",
"locale":{"number":{"decimal":",","thousands":".","grouping":[3],"currency":["","€"]}},
"view":{"stroke":"black","strokeWidth":1.5},
"title":{"font":"Liberation Serif","fontWeight":"normal","color":"black"},
"axis":{"domainColor":"black","domainWidth":2,"tickColor":"black","tickWidth":1.5,"labelFont":"Liberation Serif","labelFontSize":24,"labelColor":"black","titleFont":"Liberation Serif","titleFontSize":26.5,"titleFontWeight":"normal","titleColor":"black","grid":false}
}
}
